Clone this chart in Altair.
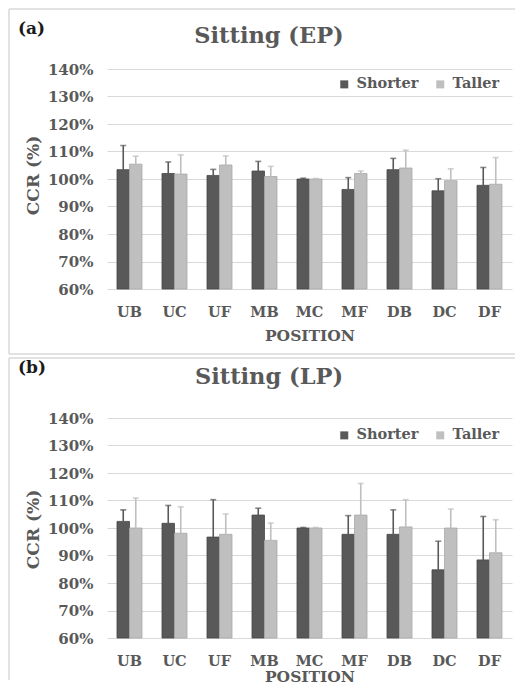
import altair as alt
import pandas as pd

positions = ["UB", "UC", "UF", "MB", "MC", "MF", "DB", "DC", "DF"]
groups = ["Shorter", "Taller"]

ep_shorter = [1.034, 1.020, 1.013, 1.029, 1.000, 0.962, 1.034, 0.957, 0.977]
ep_shorter_hi = [1.122, 1.062, 1.035, 1.064, 1.003, 1.005, 1.075, 1.001, 1.042]
ep_taller = [1.054, 1.018, 1.051, 1.009, 1.000, 1.020, 1.040, 0.994, 0.981]
ep_taller_hi = [1.083, 1.088, 1.084, 1.046, 1.002, 1.029, 1.105, 1.037, 1.078]

lp_shorter = [1.024, 1.017, 0.967, 1.047, 1.000, 0.977, 0.977, 0.848, 0.884]
lp_shorter_hi = [1.066, 1.082, 1.103, 1.072, 1.002, 1.045, 1.066, 0.952, 1.042]
lp_taller = [1.000, 0.981, 0.977, 0.955, 1.000, 1.047, 1.004, 1.000, 0.910]
lp_taller_hi = [1.109, 1.077, 1.051, 1.018, 1.002, 1.162, 1.103, 1.069, 1.030]

y_ticks = [0.6, 0.7, 0.8, 0.9, 1.0, 1.1, 1.2, 1.3, 1.4]

FONT = "DejaVu Serif"
GREY = "#595959"
LIGHT = "#bfbfbf"
FRAME = "#d9d9d9"
W, H = 405, 220


def panel(tag, title, s, s_hi, t, t_hi, title_y, tag_y, xtitle_y, ytitle_y, legend_y, frame_bottom):
    rows = []
    for i, p in enumerate(positions):
        rows.append({"pos": p, "group": "Shorter", "value": s[i], "hi": s_hi[i]})
        rows.append({"pos": p, "group": "Taller", "value": t[i], "hi": t_hi[i]})
    df = pd.DataFrame(rows)

    xaxis = alt.Axis(
        title="POSITION", labelAngle=0, ticks=False, domain=False,
        labelFont=FONT, labelFontSize=14.5, labelFontWeight="bold", labelColor=GREY,
        labelPadding=16, titleFont=FONT, titleFontSize=15.5, titleFontWeight="bold",
        titleColor=GREY, titleY=xtitle_y, titleBaseline="alphabetic",
    )
    xscale = alt.Scale(paddingInner=0.444, paddingOuter=0.222)
    yscale = alt.Scale(domain=[0.6, 1.4], nice=False, zero=False)
    yaxis = alt.Axis(
        values=y_ticks, format=".0%", title="CCR (%)", ticks=False, domain=False,
        grid=True, gridColor=FRAME, gridWidth=1.2, labelOverlap=False,
        labelFont=FONT, labelFontSize=15, labelFontWeight="bold", labelColor=GREY,
        labelPadding=14, titleFont=FONT, titleFontSize=17, titleFontWeight="bold",
        titleColor=GREY, titleX=-73.5, titleY=ytitle_y, titleBaseline="middle",
        titleAlign="center",
    )
    cscale = alt.Scale(domain=groups, range=[GREY, LIGHT])
    color = alt.Color(
        "group:N",
        scale=cscale,
        legend=alt.Legend(
            title=None, orient="none", legendX=230, legendY=legend_y,
            direction="horizontal", symbolType="square", symbolSize=64,
            symbolStrokeWidth=0, labelFont=FONT, labelFontSize=14.5,
            labelFontWeight="bold", labelColor=GREY, labelOffset=5,
            columnPadding=14, padding=0,
        ),
    )
    X = alt.X("pos:N", sort=positions, scale=xscale, axis=xaxis)
    XO = alt.XOffset("group:N", sort=groups)

    base = alt.Chart(df)
    bars = base.mark_bar(strokeWidth=0.8).encode(
        x=X,
        xOffset=XO,
        y=alt.Y("value:Q", scale=yscale, axis=yaxis),
        y2=alt.datum(0.6),
        color=color,
        stroke=alt.Stroke("group:N", scale=alt.Scale(domain=groups, range=["#474747", "#a8a8a8"]), legend=None),
    )
    err = base.mark_rule(strokeWidth=1.6).encode(
        x=X,
        xOffset=XO,
        y=alt.Y("value:Q", scale=yscale, axis=yaxis),
        y2="hi:Q",
        color=alt.Color("group:N", scale=cscale, legend=None),
    )
    caps = base.mark_tick(size=6, thickness=1.6).encode(
        x=X,
        xOffset=XO,
        y=alt.Y("hi:Q", scale=yscale, axis=yaxis),
        color=alt.Color("group:N", scale=cscale, legend=None),
    )

    one = pd.DataFrame({"t": [title], "tag": [tag]})
    ttl = alt.Chart(one).mark_text(
        font=FONT, fontSize=22.5, fontWeight="bold", color=GREY, align="center", baseline="alphabetic"
    ).encode(x=alt.value(162), y=alt.value(title_y), text="t:N")
    tg = alt.Chart(one).mark_text(
        font=FONT, fontSize=17, fontWeight="bold", color="#1a1a1a", align="left", baseline="alphabetic"
    ).encode(x=alt.value(-89), y=alt.value(tag_y), text="tag:N")

    fr_top = alt.Chart(one).mark_rule(color=FRAME, strokeWidth=1.5).encode(
        x=alt.value(-98), x2=alt.value(408), y=alt.value(-60))
    fr_left = alt.Chart(one).mark_rule(color=FRAME, strokeWidth=1.5).encode(
        x=alt.value(-98), y=alt.value(-60), y2=alt.value(frame_bottom))
    layers = [fr_top, fr_left, bars, err, caps, ttl, tg]
    return alt.layer(*layers).properties(width=W, height=H)


pa = panel("(a)", "Sitting (EP)", ep_shorter, ep_shorter_hi, ep_taller, ep_taller_hi,
           title_y=-26, tag_y=-35, xtitle_y=51.5, ytitle_y=106, legend_y=8, frame_bottom=285)
fr_bottom_a = alt.Chart(pd.DataFrame({"k": [0]})).mark_rule(color=FRAME, strokeWidth=1.5).encode(
    x=alt.value(-98), x2=alt.value(408), y=alt.value(285))
pa = alt.layer(pa, fr_bottom_a)

pb = panel("(b)", "Sitting (LP)", lp_shorter, lp_shorter_hi, lp_taller, lp_taller_hi,
           title_y=-34, tag_y=-45, xtitle_y=43.5, ytitle_y=111, legend_y=10, frame_bottom=262)

chart = (
    alt.vconcat(pa, pb, spacing=2)
    .resolve_scale(color="independent", stroke="independent")
    .properties(padding=0)
    .configure_view(stroke=None)
    .configure_axis(labelOverlap=False)
)

chart.save("out.html", embed_options={"renderer": "svg", "actions": False})
